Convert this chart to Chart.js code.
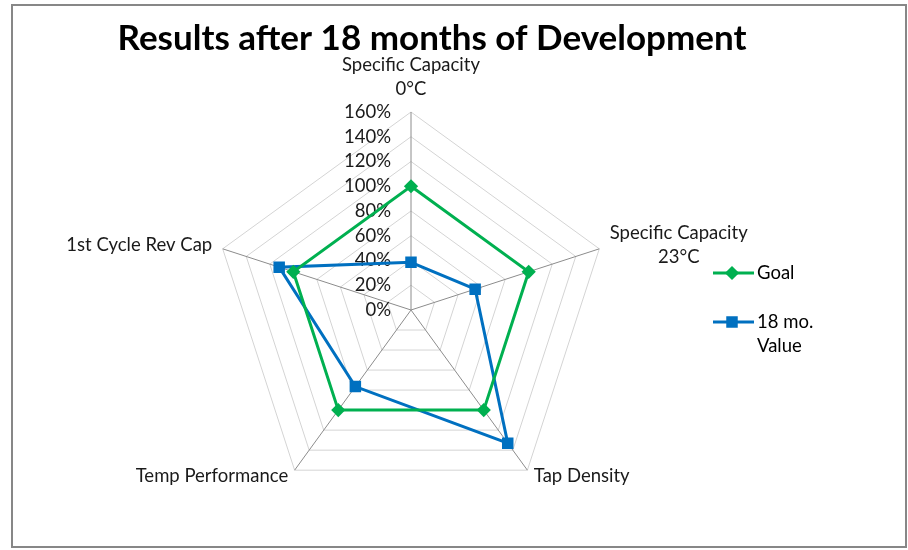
<!DOCTYPE html>
<html lang="en">
<head>
<meta charset="UTF-8">
<title>Results after 18 months of Development</title>
<script src="https://cdn.jsdelivr.net/npm/chart.js@4.4.1/dist/chart.umd.min.js"></script>
<style>
  html, body { margin: 0; padding: 0; background: #fff; }
  #wrap { width: 908px; height: 550px; position: relative; }
</style>
</head>
<body>
<div id="wrap"><canvas id="radar" width="908" height="550"></canvas></div>
<script>
// data
const categories = [['Specific Capacity', '0°C'], ['Specific Capacity', '23°C'], 'Tap Density', 'Temp Performance', '1st Cycle Rev Cap'];
const goalValues = [1.00, 1.00, 1.00, 1.00, 1.00];
const monthValues = [0.385, 0.545, 1.33, 0.765, 1.12];
const seriesNames = ['Goal', ['18 mo.', 'Value']];
const chartTitle = 'Results after 18 months of Development';

const FONT = 'Lato, "Open Sans", sans-serif';
const LABEL_SIZE = 18.5;
const GREEN = '#00B050';
const BLUE = '#0070C0';

// frame, title, % ticks, category labels and the legend
const extras = {
  id: 'extras',
  beforeDraw(chart) {
    const ctx = chart.ctx;
    ctx.save();
    ctx.strokeStyle = '#878787';
    ctx.lineWidth = 2;
    ctx.strokeRect(12, 5, 894, 542);
    ctx.fillStyle = '#000';
    ctx.font = 'bold 35px ' + FONT;
    ctx.textAlign = 'center';
    ctx.textBaseline = 'middle';
    ctx.fillText(chartTitle, 432, 39);
    ctx.restore();
  },
  beforeDatasetsDraw(chart) {
    const ctx = chart.ctx;
    const r = chart.scales.r;
    ctx.save();
    ctx.fillStyle = '#1a1a1a';
    ctx.font = LABEL_SIZE + 'px ' + FONT;
    ctx.textBaseline = 'middle';

    // percent ticks, right of them sits the vertical axis
    ctx.textAlign = 'right';
    r.ticks.forEach(t => {
      const d = r.getDistanceFromCenterForValue(t.value);
      ctx.fillText(Math.round(t.value * 100) + '%', r.xCenter - 20, r.yCenter - d);
    });

    // category labels outside each spoke
    const lineH = 24;
    ctx.textAlign = 'center';
    categories.forEach((lab, i) => {
      const lines = Array.isArray(lab) ? lab : [lab];
      const p = r.getPointPosition(i, r.drawingArea + 11);
      const a = r.getIndexAngle(i);
      const s = Math.sin(a), c = Math.cos(a);
      const w = Math.max(...lines.map(l => ctx.measureText(l).width));
      let cx = p.x;
      if (s > 0.1) cx = p.x + w / 2;
      else if (s < -0.1) cx = p.x - w / 2;
      let top;
      if (c > 0.9) top = p.y - lines.length * lineH;
      else if (c < -0.5) top = p.y - lineH / 2 - 3;
      else top = p.y - lines.length * lineH / 2;
      lines.forEach((l, k) => ctx.fillText(l, cx, top + lineH / 2 + k * lineH));
    });
    ctx.restore();
  },
  afterDraw(chart) {
    const ctx = chart.ctx;
    const rows = [
      { y: 273, color: GREEN, ds: 0 },
      { y: 322, color: BLUE, ds: 1 }
    ];
    ctx.save();
    rows.forEach((row, i) => {
      ctx.strokeStyle = row.color;
      ctx.lineWidth = 3;
      ctx.beginPath();
      ctx.moveTo(713, row.y);
      ctx.lineTo(754, row.y);
      ctx.stroke();
      const ds = chart.data.datasets[row.ds];
      Chart.helpers.drawPoint(ctx, {
        pointStyle: ds.pointStyle, radius: ds.pointRadius, rotation: 0, borderWidth: 1
      }, 732, row.y);
      ctx.fillStyle = row.color;
      ctx.fill();
      ctx.fillStyle = '#000';
      ctx.font = LABEL_SIZE + 'px ' + FONT;
      ctx.textAlign = 'left';
      ctx.textBaseline = 'middle';
      const name = seriesNames[i];
      if (Array.isArray(name)) {
        ctx.fillText(name[0], 757, row.y);
        ctx.fillText(name[1], 757, row.y + 24);
      } else {
        ctx.fillText(name, 757, row.y);
      }
    });
    ctx.restore();
  }
};

new Chart(document.getElementById('radar'), {
  type: 'radar',
  data: {
    labels: categories,
    datasets: [
      {
        label: 'Goal',
        data: goalValues,
        borderColor: GREEN,
        backgroundColor: GREEN,
        borderWidth: 3,
        pointStyle: 'rectRot',
        pointRadius: 5,
        pointBackgroundColor: GREEN,
        pointBorderColor: GREEN,
        fill: false,
        tension: 0
      },
      {
        label: '18 mo. Value',
        data: monthValues,
        borderColor: BLUE,
        backgroundColor: BLUE,
        borderWidth: 3,
        pointStyle: 'rect',
        pointRadius: 6,
        pointBackgroundColor: BLUE,
        pointBorderColor: BLUE,
        fill: false,
        tension: 0
      }
    ]
  },
  options: {
    responsive: false,
    animation: false,
    layout: { padding: { left: 200, right: 286, top: 112, bottom: 41 } },
    plugins: {
      legend: { display: false },
      title: { display: false },
      tooltip: { enabled: false }
    },
    scales: {
      r: {
        min: 0,
        max: 1.6,
        ticks: { stepSize: 0.2, display: false },
        grid: { color: '#d4d4d4', lineWidth: 1 },
        angleLines: { color: '#8c8c8c', lineWidth: 1 },
        pointLabels: { display: false }
      }
    }
  },
  plugins: [extras]
});
</script>
</body>
</html>
